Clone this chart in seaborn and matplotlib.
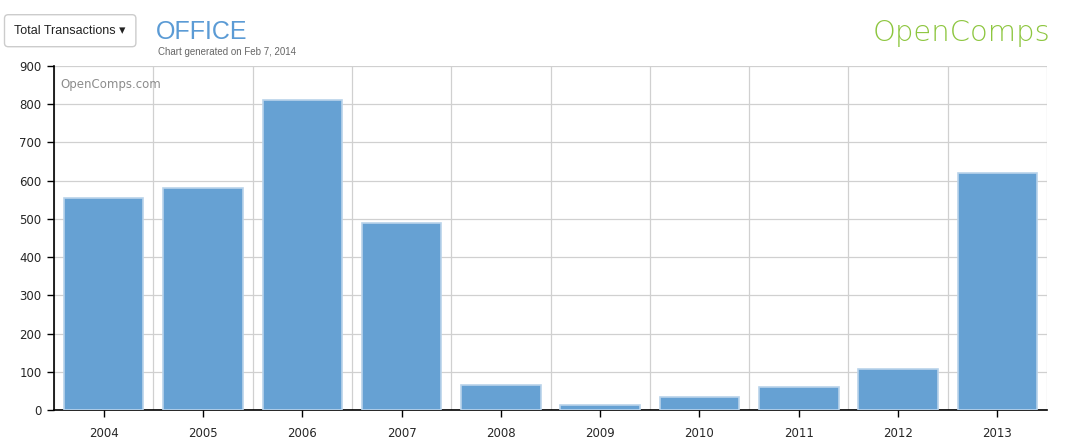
import matplotlib
matplotlib.use("Agg")
import matplotlib.pyplot as plt
import seaborn as sns
import pandas as pd
import numpy as np

# Data
years = ["2004", "2005", "2006", "2007", "2008", "2009", "2010", "2011", "2012", "2013"]
transactions = [555, 581, 811, 489, 65, 13, 34, 60, 107, 620]
y_ticks = [0, 100, 200, 300, 400, 500, 600, 700, 800, 900]

df = pd.DataFrame({"year": years, "transactions": transactions})

sns.set_style("white")
plt.rcParams["font.family"] = ["DejaVu Sans"]

fig = plt.figure(figsize=(10.74, 4.45), dpi=100)
ax = fig.add_axes([0.0503, 0.0787, 0.9246, 0.773])

sns.barplot(data=df, x="year", y="transactions", color="#66a1d3", saturation=1,
            width=0.8, edgecolor="#b9d3ea", linewidth=1.2, ax=ax, zorder=3)

ax.set_xlim(-0.5, len(years) - 0.5)
ax.set_ylim(0, 900)
ax.set_yticks(y_ticks)
ax.set_xlabel("")
ax.set_ylabel("")

# grid: horizontal at y ticks, vertical at category boundaries
ax.set_xticks(np.arange(-0.5, len(years), 1.0), minor=True)
ax.grid(axis="y", color="#d0d0d0", linewidth=0.9, zorder=0)
ax.grid(axis="x", which="minor", color="#d0d0d0", linewidth=0.9, zorder=0)
ax.set_axisbelow(True)

for s in ["top", "right"]:
    ax.spines[s].set_visible(False)
for s in ["left", "bottom"]:
    ax.spines[s].set_color("black")
    ax.spines[s].set_linewidth(1.2)

ax.tick_params(axis="x", which="major", length=5, width=1, color="black",
               labelsize=8.5, pad=7, direction="out", bottom=True)
ax.tick_params(axis="x", which="minor", length=0)
ax.tick_params(axis="y", length=5, width=1, color="black", labelsize=8.5,
               pad=4, direction="out", left=True)

# watermark
ax.text(0.006, 0.965, "OpenComps.com", transform=ax.transAxes, fontsize=8.5,
        color="#8c8c8c", va="top", ha="left")

# header
hdr = ["Liberation Sans", "DejaVu Sans"]
fig.text(0.0135, 0.931, "Total Transactions \u25be", fontsize=9, color="#222222",
         va="center", ha="left", family=hdr,
         bbox=dict(boxstyle="round,pad=0.8,rounding_size=0.3", fc="white",
                   ec="#cccccc", lw=1))
fig.text(0.145, 0.928, "OFFICE", fontsize=18, color="#5b9bd5",
         va="center", ha="left", family=hdr)
fig.text(0.147, 0.883, "Chart generated on Feb 7, 2014", fontsize=7,
         color="#666666", va="center", ha="left", family=hdr)
fig.text(0.978, 0.925, "OpenComps", fontsize=21, color="#8dc63f",
         va="center", ha="right", fontweight="light")

plt.savefig("out.png", dpi=100)
plt.close()
